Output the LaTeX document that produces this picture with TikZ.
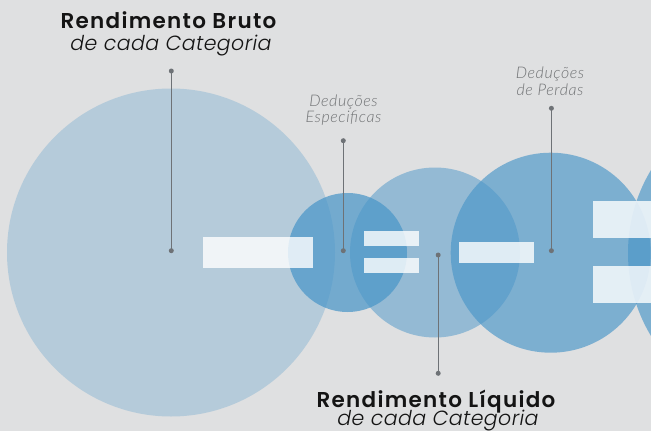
\documentclass[tikz,border=0pt]{standalone}
\usepackage{fontspec}
\setmainfont{Poppins}[BoldFont={* SemiBold}, ItalicFont={* Light Italic}]
\newfontfamily\latofont{Lato}[ItalicFont={* Light Italic}]
\usetikzlibrary{calc}
\definecolor{bgc}{HTML}{DFE0E1}
\definecolor{basec}{RGB}{74,150,200}
\definecolor{linec}{RGB}{110,114,118}
\definecolor{graytxt}{RGB}{112,114,116}
\definecolor{darktxt}{RGB}{20,20,20}
\tikzset{
  bubble/.style={circle, inner sep=0pt, draw=none, fill=basec},
  bar/.style={rectangle, inner sep=0pt, draw=none, fill=white, fill opacity=0.8},
  dotpt/.style={circle, inner sep=0pt, minimum size=5pt, fill=linec},
  leader/.style={draw=linec, line width=1.2pt},
  title/.style={anchor=base, inner sep=0pt, text=darktxt, font=\fontsize{21.5}{24}\selectfont\bfseries\addfontfeatures{LetterSpace=6}},
  subtitle/.style={anchor=base, inner sep=0pt, text=darktxt, font=\fontsize{20.5}{24}\selectfont\itshape\addfontfeatures{LetterSpace=2}},
  note/.style={anchor=base, inner sep=0pt, text=graytxt, font=\latofont\fontsize{16}{17}\selectfont\itshape\addfontfeatures{LetterSpace=3.5}}
}
\begin{document}
\begin{tikzpicture}[x=1pt,y=-1pt]
\useasboundingbox (0,0) rectangle (651,431);
\fill[bgc] (0,0) rectangle (651,431);
% bubbles
\node[bubble, fill opacity=0.28, minimum size=328pt] (c1) at (171,252.5) {};
\node[bubble, fill opacity=0.5, minimum size=170pt] (c3) at (435,252.5) {};
\node[bubble, fill opacity=0.72, minimum size=119pt] (c2) at (347.5,252.5) {};
\node[bubble, fill opacity=0.66, minimum size=200pt] (c4) at (550.7,252.7) {};
\node[bubble, fill opacity=0.66, minimum size=322pt] (c5) at (789,253) {};
% operator bars
\node[bar, minimum width=110pt, minimum height=31pt] (minus1) at (258,252.5) {};
\node[bar, minimum width=55pt, minimum height=15pt] (eqA1) at (391,238.7) {};
\node[bar, minimum width=55pt, minimum height=15pt] (eqB1) at (391,265) {};
\node[bar, minimum width=75pt, minimum height=21pt] (minus2) at (496.5,252.3) {};
\node[bar, minimum width=70pt, minimum height=37.5pt] (eqA2) at (628,219.3) {};
\node[bar, minimum width=70pt, minimum height=37.5pt] (eqB2) at (628,284.5) {};
% leader dots
\node[dotpt] (d1a) at (171.3,71) {};
\node[dotpt] (d1b) at (171.3,250.7) {};
\node[dotpt] (d2a) at (343.3,140.7) {};
\node[dotpt] (d2b) at (343.3,250.7) {};
\node[dotpt] (d3a) at (551.4,108.3) {};
\node[dotpt] (d3b) at (551.4,250.7) {};
\node[dotpt] (d4a) at (438.2,255) {};
\node[dotpt] (d4b) at (438.2,373.3) {};
\draw[leader] (d1a.center) -- (d1b.center);
\draw[leader] (d2a.center) -- (d2b.center);
\draw[leader] (d3a.center) -- (d3b.center);
\draw[leader] (d4a.center) -- (d4b.center);
% texts
\node[title] (t1) at (168.5,28.3) {Rendimento Bruto};
\node[subtitle] (s1) at (171,50) {de cada Categoria};
\node[title] (t2) at (436,407.7) {Rendimento Líquido};
\node[subtitle] (s2) at (438,425.5) {de cada Categoria};
\node[note] (n1a) at (343.5,106) {Deduções};
\node[note] (n1b) at (343.5,122.7) {Especificas};
\node[note] (n2a) at (550,78.3) {Deduções};
\node[note] (n2b) at (550,95.7) {de Perdas};
\end{tikzpicture}
\end{document}
